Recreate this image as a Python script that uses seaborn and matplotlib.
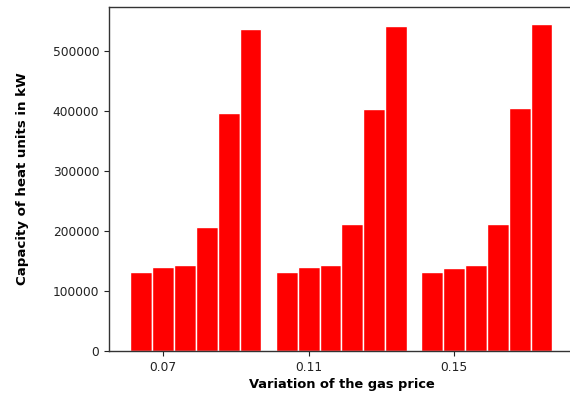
import numpy as np
import pandas as pd
import matplotlib
matplotlib.use("Agg")
import matplotlib.pyplot as plt
import seaborn as sns

# Gas price variations and the heat-unit capacity of each scenario (kW)
gas_prices = ["0.07", "0.11", "0.15"]
scenarios = ["s1", "s2", "s3", "s4", "s5", "s6"]
capacity_007 = [132000, 139500, 142800, 207000, 397000, 536000]
capacity_011 = [132000, 139500, 142800, 212000, 402500, 541500]
capacity_015 = [132000, 137800, 142800, 212000, 404000, 544500]
y_ticks = [0, 100000, 200000, 300000, 400000, 500000]

rows = []
for price, values in zip(gas_prices, [capacity_007, capacity_011, capacity_015]):
    for scen, v in zip(scenarios, values):
        rows.append({"price": price, "scenario": scen, "capacity": v})
df = pd.DataFrame(rows)

sns.set_style("ticks")
plt.rcParams["font.family"] = ["DejaVu Sans"]

fig = plt.figure(figsize=(5.70, 3.97), dpi=100)
ax = fig.add_axes([109 / 570, 1 - 351 / 397, (574 - 109) / 570, (351 - 7) / 397])

bar_w = 0.9 / len(scenarios)
sns.barplot(data=df, x="price", y="capacity", hue="scenario", order=gas_prices,
            hue_order=scenarios, palette=["#ff0000"] * len(scenarios),
            saturation=1, width=0.9, dodge=True, edgecolor="white",
            linewidth=1.0, errorbar=None, legend=False, ax=ax)

# tick label sits under the second bar of each group
idx = np.arange(len(gas_prices))
ax.set_xticks(idx - 1.5 * bar_w)
ax.set_xticklabels(gas_prices)
ax.set_xlim(-0.597, 2.598)
ax.set_ylim(0, 573000)
ax.set_yticks(y_ticks)
ax.set_yticklabels([str(t) for t in y_ticks])

ax.tick_params(labelsize=8.8, colors="#222222", length=3.5, width=0.8)
for side in ["left", "bottom", "top", "right"]:
    ax.spines[side].set_visible(True)
    ax.spines[side].set_color("#333333")
    ax.spines[side].set_linewidth(1.0)

ax.set_xlabel("Variation of the gas price", fontsize=9.4, fontweight="bold",
              labelpad=3, color="black")
ax.set_ylabel("Capacity of heat units in kW", fontsize=9.6, fontweight="bold",
              labelpad=17, color="black")

fig.savefig("out.png", dpi=100)
